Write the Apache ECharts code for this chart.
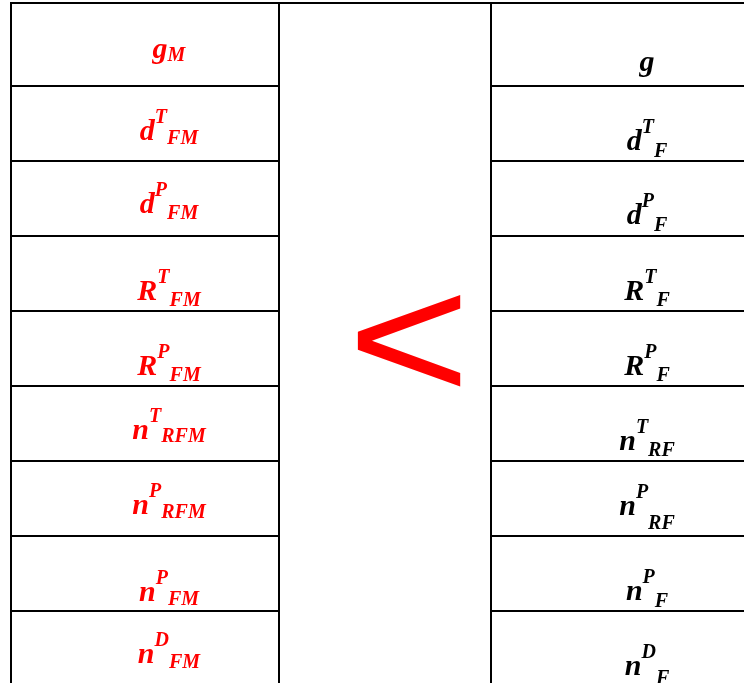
<!DOCTYPE html>
<html><head><meta charset="utf-8">
<script src="https://cdn.jsdelivr.net/npm/echarts@6/dist/echarts.min.js"></script>
<style>html,body{margin:0;padding:0;background:#fff}#c{width:744px;height:683px}</style>
</head><body><div id="c"></div>
<script>
// ---- data ----
const leftBase  = ['g', 'd', 'd', 'R', 'R', 'n', 'n', 'n', 'n'];
const leftSup   = ['',  'T', 'P', 'T', 'P', 'T', 'P', 'P', 'D'];
const leftSub   = ['M', 'FM', 'FM', 'FM', 'FM', 'RFM', 'RFM', 'FM', 'FM'];
const rightBase = ['g', 'd', 'd', 'R', 'R', 'n', 'n', 'n', 'n'];
const rightSup  = ['',  'T', 'P', 'T', 'P', 'T', 'P', 'P', 'D'];
const rightSub  = ['',  'F', 'F', 'F', 'F', 'RF', 'RF', 'F', 'F'];
const relation  = '<';

// ---- layout ----
const W = 744, H = 683;
const rowLines = [3, 86, 161, 236, 311, 386, 461, 536, 611];
const colX = [11, 279, 491];
const leftCenterX = 169, rightCenterX = 647;
const leftBaseOff  = [57, 56, 54, 66, 66, 55, 55, 67, 54];
const rightBaseOff = [70, 66, 65, 66, 66, 66, 56, 66, 66];
const leftSubDrop  = [2, 3, 5, 5, 5, 2, 3, 3, 4];
const rightSubDrop = [0, 6, 6, 5, 5, 5, 13, 6, 8];
const FAM = '"Liberation Serif","Times New Roman",serif';

const elements = [];
const lineStyle = {stroke: '#000', lineWidth: 2};
// vertical lines
colX.forEach(x => elements.push({type: 'line', shape: {x1: x, y1: 2, x2: x, y2: H}, style: lineStyle, silent: true}));
// top line full width
elements.push({type: 'line', shape: {x1: colX[0] - 1, y1: rowLines[0], x2: W, y2: rowLines[0]}, style: lineStyle, silent: true});
rowLines.slice(1).forEach(y => {
  elements.push({type: 'line', shape: {x1: colX[0], y1: y, x2: colX[1], y2: y}, style: lineStyle, silent: true});
  elements.push({type: 'line', shape: {x1: colX[2], y1: y, x2: W, y2: y}, style: lineStyle, silent: true});
});

function label(base, sup, sub, cx, baseline, drop, color) {
  let txt = '{b|' + base + '}';
  if (sup) txt += '{p|' + sup + '}';
  if (sub) txt += '{s|' + sub + '}';
  const f = {fontFamily: FAM, fontWeight: 'bold', fontStyle: 'italic', fill: color};
  return {
    type: 'text', x: cx, y: baseline - 30, silent: true,
    style: {
      text: txt, align: 'center', verticalAlign: 'top', fill: color,
      fontFamily: FAM, fontWeight: 'bold', fontStyle: 'italic', fontSize: 30,
      rich: {
        b: Object.assign({fontSize: 30, lineHeight: 40}, f),
        p: Object.assign({fontSize: 20, height: 10.75, verticalAlign: 'top'}, f),
        s: Object.assign({fontSize: 20, height: 33.3 - 2 * drop, verticalAlign: 'bottom'}, f)
      }
    }
  };
}
for (let i = 0; i < leftBase.length; i++) {
  elements.push(label(leftBase[i], leftSup[i], leftSub[i], leftCenterX, rowLines[i] + leftBaseOff[i], leftSubDrop[i], '#ff0000'));
  elements.push(label(rightBase[i], rightSup[i], rightSub[i], rightCenterX, rowLines[i] + rightBaseOff[i], rightSubDrop[i], '#000000'));
}
elements.push({
  type: 'text', x: 409, y: 350, silent: true, scaleX: 1.17,
  style: {text: relation, align: 'center', verticalAlign: 'middle', fill: '#ff0000',
    fontFamily: '"Liberation Sans",Arial,sans-serif', fontSize: 180}
});

const chart = echarts.init(document.getElementById('c'), null, {renderer: 'canvas'});
chart.setOption({animation: false, backgroundColor: '#fff', graphic: {elements: elements}});
</script></body></html>
